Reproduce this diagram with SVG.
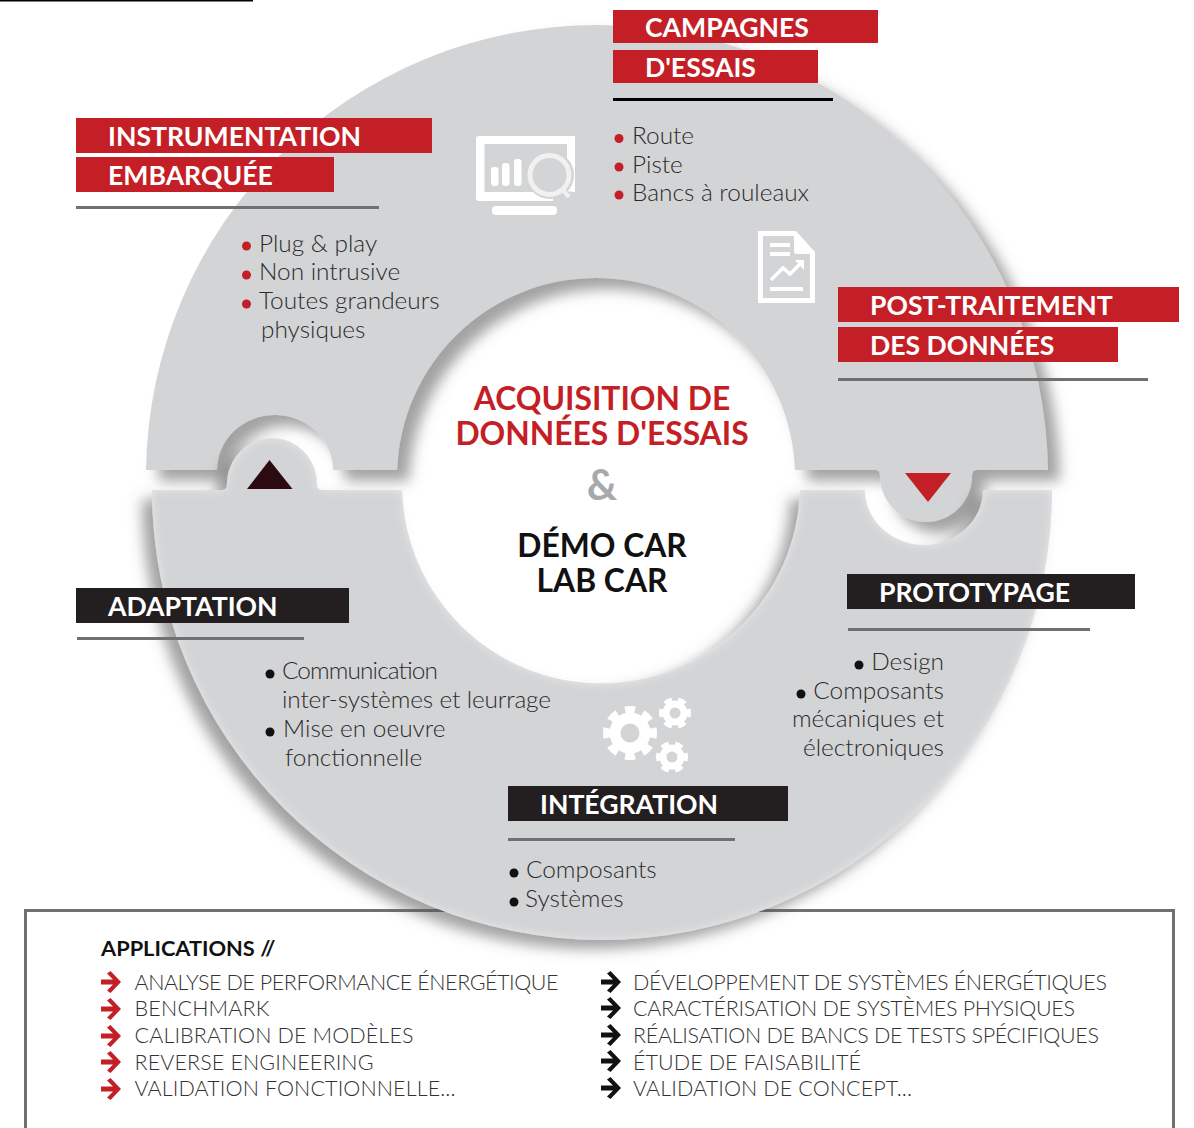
<svg xmlns="http://www.w3.org/2000/svg" xmlns:xlink="http://www.w3.org/1999/xlink" width="1194" height="1128" viewBox="0 0 1194 1128">
<style>
text{font-family:Lato,"Liberation Sans",sans-serif}
.h{font-size:26.6px;font-weight:700;fill:#fff}
.c{font-size:31.800px;font-weight:700;text-anchor:middle}
.l{font-size:24.400px;font-weight:300;fill:#2b2b2b}
.e{text-anchor:end}
.a{font-size:21.500px;font-weight:300;fill:#333}
.r{fill:#c41f26}.k{fill:#231f20}
.gl{stroke:#707070;stroke-width:3}
.w{fill:#fff}.ring{fill:#d3d4d6}
.gear{fill:none;stroke:#fff}
</style>
<defs>
<filter id="su" x="-10%" y="-10%" width="125%" height="125%"><feDropShadow dx="12" dy="11" stdDeviation="7" flood-color="#555" flood-opacity=".55"/></filter>
<filter id="sl" x="-10%" y="-10%" width="125%" height="125%">
<feFlood flood-color="#fff" flood-opacity=".45" result="f"/>
<feComposite in="f" in2="SourceAlpha" operator="out"/>
<feGaussianBlur stdDeviation="5"/>
<feComposite in2="SourceAlpha" operator="in" result="glow"/>
<feDropShadow in="SourceGraphic" dx="-10" dy="9" stdDeviation="7" flood-color="#555" flood-opacity=".55" result="base"/>
<feMerge><feMergeNode in="base"/><feMergeNode in="glow"/></feMerge>
</filter>
<path id="arr" d="M0,-2.5H12L6,-8.5L9.5,-11L20,0L9.5,11L6,8.5L12,2.5H0Z"/>
</defs>
<rect width="1194" height="1128" fill="#fff"/>
<rect width="253" height="1.5" fill="#000"/>
<g id="applications-frame"><path d="M25.500,1128V910.500H1173.500V1128" fill="none" stroke="#707070" stroke-width="3"/></g>
<g id="ring">
<path id="ring-upper" class="ring" filter="url(#su)" d="M146.040,470A451,451 0 0 1 1047.960,470H976Q972,470 972,476A46,46 0 0 1 880,476Q880,470 876,470H794.880A199,199 0 0 0 397.120,470H333A58,55 0 0 0 217,470Z"/>
<path id="ring-lower" class="ring" filter="url(#sl)" d="M152,490H222Q227,490 227,484A45,46 0 0 1 317,484Q317,490 322,490H402.080A199,199 0 0 0 799.920,490H865A59,55 0 0 0 983,490H1052A450,450 0 0 1 152,490Z"/>
</g>
<g id="connectors">
<path fill="#2b0a12" d="M269.500,460L292.500,489H247Z"/>
<path class="r" d="M905,473H951L928,502Z"/>
</g>
<g id="centre">
<text class="c r" x="602" y="410">ACQUISITION DE</text>
<text class="c r" x="602" y="445">DONNÉES D'ESSAIS</text>
<text x="602" y="500" font-size="42" font-weight="700" text-anchor="middle" fill="#a7a9ac">&amp;</text>
<text class="c" x="602" y="557" fill="#111">DÉMO CAR</text>
<text class="c" x="602" y="592" fill="#111">LAB CAR</text>
</g>
<g id="instrumentation">
<rect class="r" x="76" y="118" width="356" height="35"/><rect class="r" x="76" y="157" width="258" height="35"/>
<text class="h" x="108" y="146">INSTRUMENTATION</text><text class="h" x="108" y="185">EMBARQUÉE</text>
<path class="gl" d="M76,207.500H379"/>
<g class="r"><circle cx="246.500" cy="246" r="4.500"/><circle cx="246.500" cy="275" r="4.500"/><circle cx="246.500" cy="304" r="4.500"/></g>
<text class="l" x="259" y="252">Plug &amp; play</text><text class="l" x="259" y="280">Non intrusive</text><text class="l" x="259" y="309">Toutes grandeurs</text><text class="l" x="261" y="338">physiques</text>
</g>
<g id="campagnes">
<rect class="r" x="613" y="10" width="265" height="33"/><rect class="r" x="613" y="50" width="205" height="33"/>
<text class="h" x="645" y="37">CAMPAGNES</text><text class="h" x="645" y="77">D'ESSAIS</text>
<path d="M613,99.500H833" stroke="#000" stroke-width="3"/>
<g class="r"><circle cx="619" cy="138.500" r="4.500"/><circle cx="619" cy="167" r="4.500"/><circle cx="619" cy="195" r="4.500"/></g>
<text class="l" x="632" y="144">Route</text><text class="l" x="632" y="173">Piste</text><text class="l" x="632" y="201">Bancs à rouleaux</text>
</g>
<g id="post-traitement">
<rect class="r" x="838" y="287" width="341" height="35"/><rect class="r" x="838" y="327" width="280" height="35"/>
<text class="h" x="870" y="315">POST-TRAITEMENT</text><text class="h" x="870" y="355">DES DONNÉES</text>
<path class="gl" d="M838,379.500H1148"/>
</g>
<g id="prototypage">
<rect class="k" x="847" y="574" width="288" height="35"/>
<text class="h" x="879" y="602">PROTOTYPAGE</text>
<path class="gl" d="M848,629.500H1090"/>
<g fill="#111"><circle cx="859" cy="665" r="4.500"/><circle cx="801" cy="694" r="4.500"/></g>
<text class="l e" x="944" y="670">Design</text><text class="l e" x="944" y="699">Composants</text><text class="l e" x="944" y="727">mécaniques et</text><text class="l e" x="944" y="756">électroniques</text>
</g>
<g id="integration">
<rect class="k" x="508" y="786" width="280" height="35"/>
<text class="h" x="540" y="814">INTÉGRATION</text>
<path class="gl" d="M508,839.500H735"/>
<g fill="#111"><circle cx="514" cy="873" r="4.500"/><circle cx="514" cy="902" r="4.500"/></g>
<text class="l" x="526" y="878">Composants</text><text class="l" x="525" y="907">Systèmes</text>
</g>
<g id="adaptation">
<rect class="k" x="76" y="588" width="273" height="35"/>
<text class="h" x="108" y="616">ADAPTATION</text>
<path class="gl" d="M77,638.500H304"/>
<g fill="#111"><circle cx="270" cy="674" r="4.500"/><circle cx="270" cy="732" r="4.500"/></g>
<text class="l" x="282" y="679" textLength="156">Communication</text><text class="l" x="282" y="708" textLength="269">inter-systèmes et leurrage</text><text class="l" x="283" y="737">Mise en oeuvre</text><text class="l" x="285" y="766">fonctionnelle</text>
</g>
<g id="icon-monitor">
<path class="w" fill-rule="evenodd" d="M479,136H575V201H479Q476,201 476,198V139Q476,136 479,136ZM484.500,144V192H567V144Z"/>
<circle cx="550" cy="175" r="24" fill="#d3d4d6"/>
<path fill="#d3d4d6" d="M553,190L575,192V201H553Z"/>
<rect class="w" x="492" y="206" width="65" height="9" rx="4"/>
<g class="w"><rect x="491" y="167" width="7.500" height="19" rx="3"/><rect x="502" y="163" width="7.500" height="23" rx="3"/><rect x="514" y="159" width="7.500" height="27" rx="3"/></g>
<circle cx="549.500" cy="175" r="19.500" fill="none" stroke="#f1f1f2" stroke-width="5"/>
<path d="M561,188L569,197" stroke="#f1f1f2" stroke-width="4"/>
</g>
<g id="icon-document">
<path fill="#fff" fill-rule="evenodd" d="M758,231H796L815,252V303H758ZM763,236V298H810V254H797Q794,254 794,251V236Z"/>
<g class="w"><rect x="770" y="243" width="20" height="4"/><rect x="770" y="252" width="20" height="4"/><rect x="770" y="287" width="33" height="4"/></g>
<path d="M771,280L783,268L790,274L801,263" fill="none" stroke="#fff" stroke-width="3.500"/>
<path class="w" d="M795,260H804V270Z"/>
</g>
<g id="icon-gears">
<circle class="gear" cx="630" cy="733" r="20" stroke-width="14" pathLength="8" stroke-dasharray=".55 .45" stroke-dashoffset=".275"/>
<circle cx="630" cy="733" r="15" class="gear" stroke-width="11"/>
<g id="small-gear-a"><circle class="gear" cx="675" cy="713" r="12" stroke-width="8" pathLength="6" stroke-dasharray=".55 .45" stroke-dashoffset=".275"/><circle class="gear" cx="675" cy="713" r="9" stroke-width="7"/></g>
<g id="small-gear-b"><circle class="gear" cx="672" cy="757" r="12" stroke-width="8" pathLength="6" stroke-dasharray=".55 .45" stroke-dashoffset=".275"/><circle class="gear" cx="672" cy="757" r="9" stroke-width="7"/></g>
</g>
<g id="applications">
<text x="101" y="956" font-size="21.8" font-weight="700" fill="#111">APPLICATIONS //</text>
<g class="r"><use xlink:href="#arr" x="101" y="982"/><use xlink:href="#arr" x="101" y="1009"/><use xlink:href="#arr" x="101" y="1036"/><use xlink:href="#arr" x="101" y="1062"/><use xlink:href="#arr" x="101" y="1089"/></g>
<g fill="#111"><use xlink:href="#arr" x="601" y="982"/><use xlink:href="#arr" x="601" y="1008"/><use xlink:href="#arr" x="601" y="1035"/><use xlink:href="#arr" x="601" y="1061"/><use xlink:href="#arr" x="601" y="1088"/></g>
<text class="a" x="134.500" y="990" textLength="424">ANALYSE DE PERFORMANCE ÉNERGÉTIQUE</text><text class="a" x="134.500" y="1016" textLength="135">BENCHMARK</text><text class="a" x="134.500" y="1043" textLength="279">CALIBRATION DE MODÈLES</text><text class="a" x="134.500" y="1070" textLength="239">REVERSE ENGINEERING</text><text class="a" x="134.500" y="1096" textLength="321">VALIDATION FONCTIONNELLE...</text>
<text class="a" x="633" y="990" textLength="474">DÉVELOPPEMENT DE SYSTÈMES ÉNERGÉTIQUES</text><text class="a" x="633" y="1016" textLength="442">CARACTÉRISATION DE SYSTÈMES PHYSIQUES</text><text class="a" x="633" y="1043" textLength="466">RÉALISATION DE BANCS DE TESTS SPÉCIFIQUES</text><text class="a" x="633" y="1070" textLength="228">ÉTUDE DE FAISABILITÉ</text><text class="a" x="633" y="1096" textLength="279">VALIDATION DE CONCEPT...</text>
</g>
</svg>
